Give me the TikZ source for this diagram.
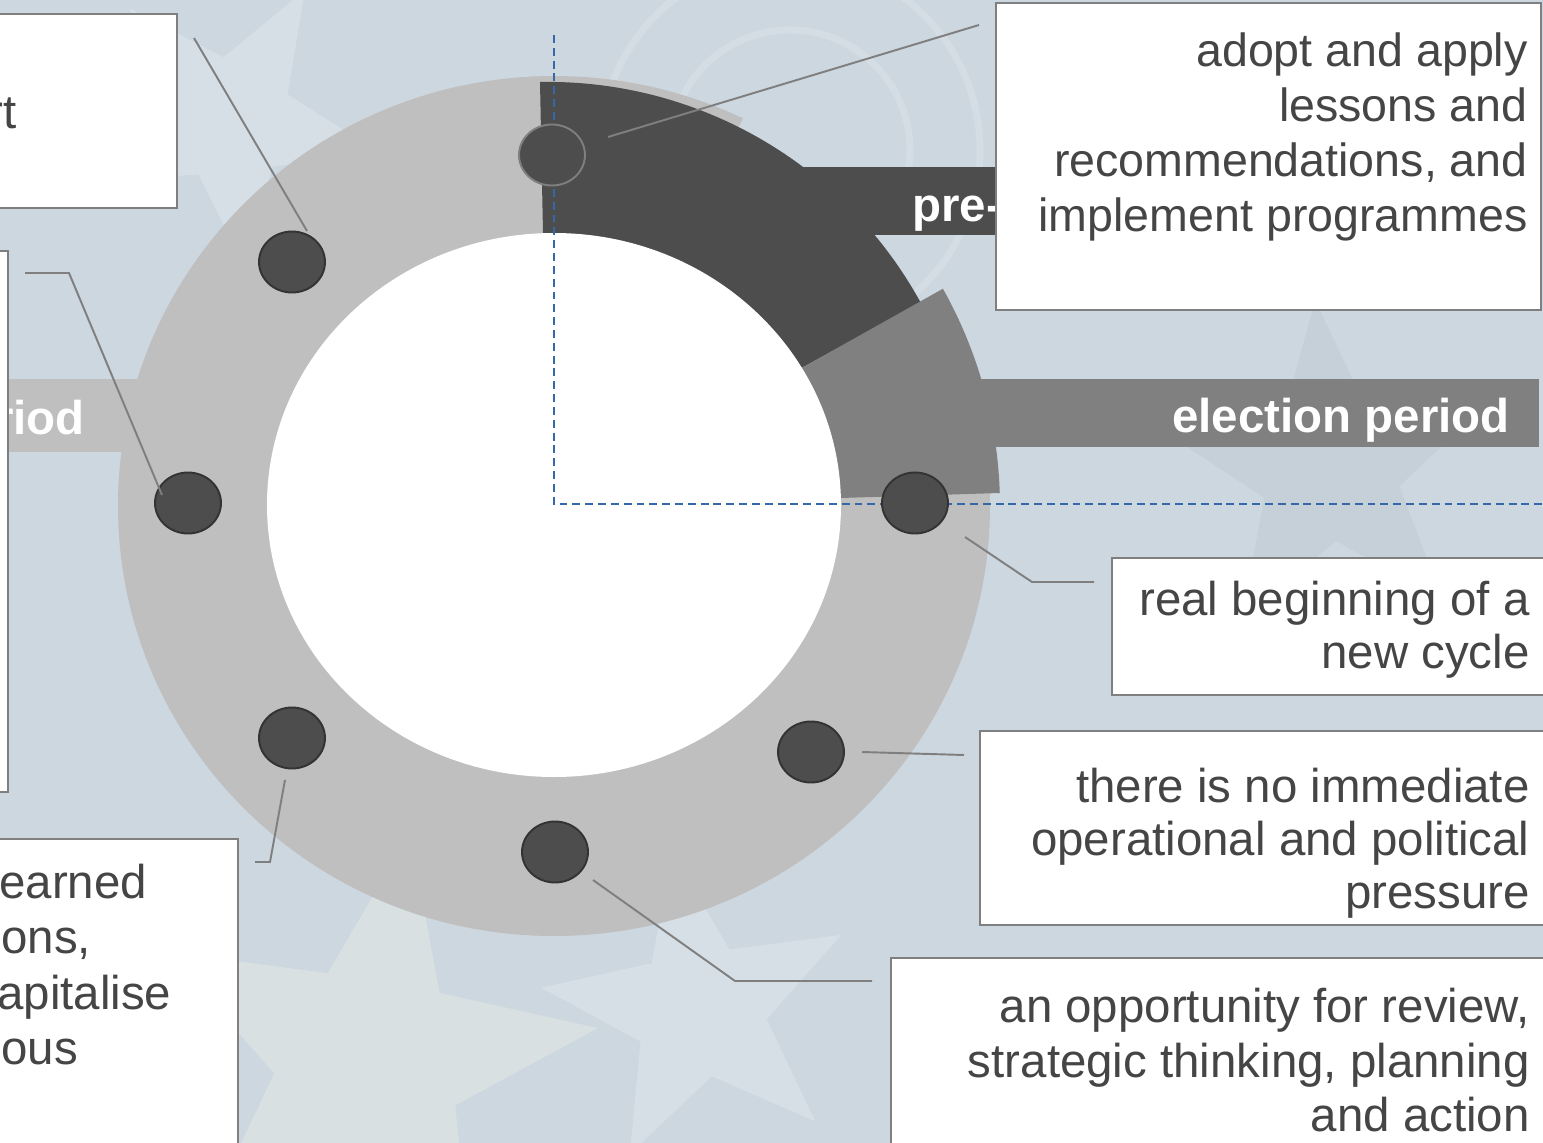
\documentclass[tikz,border=0pt]{standalone}
\usepackage{fontspec}
\setmainfont{Liberation Sans}
\usetikzlibrary{calc,shapes.geometric}

\definecolor{bgblue}{HTML}{CDD7E0}
\definecolor{paleleaf}{HTML}{E8EDE6}
\definecolor{ringgray}{HTML}{BFBFBF}
\definecolor{darkseg}{HTML}{4D4D4D}
\definecolor{midseg}{HTML}{808080}
\definecolor{dotline}{HTML}{333333}
\definecolor{leader}{HTML}{7F7F7F}
\definecolor{textgray}{HTML}{454545}
\definecolor{axisblue}{HTML}{3468A8}

% soft five-pointed star for the backdrop: x, y, radius, rotation, style
\newcommand\bgstar[5]{%
  \begin{scope}[shift={(#1,#2)}]
    \fill[#5] (#4:#3)
      \foreach \k/\f in {1/0.42,2/1,3/0.42,4/1,5/0.42,6/1,7/0.42,8/1,9/0.42}{
        -- ({#4+36*\k}:{\f*#3})} -- cycle;
  \end{scope}}

\tikzset{
  callout/.style={draw=leader, line width=1.1pt, fill=white},
  leaderline/.style={draw=leader, line width=1.1pt},
  marker/.style={ellipse, fill=darkseg, draw=dotline, line width=1.1pt,
    minimum width=1.32cm, minimum height=1.22cm, inner sep=0pt},
  bodytext/.style={font=\fontsize{27}{32}\selectfont, text=textgray, inner sep=0pt},
  bodytop/.style={font=\fontsize{26.5}{31}\selectfont, text=textgray, inner sep=0pt},
  bartext/.style={font=\fontsize{27}{32}\selectfont\bfseries, text=white, inner sep=0pt},
  axis/.style={draw=axisblue, line width=1.1pt, dash pattern=on 4.5pt off 2.8pt},
}

\begin{document}
\begin{tikzpicture}[x=0.02cm, y=-0.02cm]
\useasboundingbox (0,0) rectangle (1543,1143);
\clip (0,0) rectangle (1543,1143);

% backdrop
\fill[bgblue] (0,0) rectangle (1543,1143);
\bgstar{370}{1060}{230}{-80}{paleleaf, opacity=0.45}
\bgstar{700}{1010}{160}{-100}{white, opacity=0.22}
\bgstar{230}{120}{150}{-60}{white, opacity=0.20}
\bgstar{1330}{470}{170}{-95}{gray, opacity=0.08}
\draw[white, opacity=0.15, line width=4pt] (790,150) circle [radius=190];
\draw[white, opacity=0.15, line width=4pt] (790,150) circle [radius=120];

% post-election band, behind the ring
\fill[ringgray] (-10,379) rectangle (300,452);
\node[bartext, anchor=base east] (postlbl) at (85,434) {riod};

% the cycle ring, open where the pre-election segment sits
\begin{scope}
  \clip (554,506) -- (1429,21) -- (1500,1300) -- (-300,1300) -- (-300,-500)
    -- (992,-500) -- (992,-393) -- cycle;
  \fill[ringgray] (554,506) ellipse [x radius=436, y radius=430];
\end{scope}

% pre-election band and segment
\fill[darkseg] (760,167) rectangle (1100,235);
\node[bartext, anchor=base west] (prelbl) at (912,221) {pre-};
\fill[darkseg] (548,507) -- (543,233) -- (540,82)
  arc[start angle=-91.08, end angle=-28.73, radius=425] -- cycle;

% election band and segment
\fill[midseg] (960,379) rectangle (1539,447);
\node[bartext, anchor=base east] (eleclbl) at (1510,432) {election period};
\fill[midseg] (554,507) -- ++(-1.8:446)
  arc[start angle=-1.8, end angle=-29.3, radius=446] -- cycle;

% hole of the ring
\fill[white] (554,505) ellipse [x radius=287, y radius=272];

% dashed axes
\coordinate (axtop) at (554,35);
\coordinate (axorigin) at (554,504);
\coordinate (axright) at (1543,504);
\draw[axis] (axtop) -- (axorigin) -- (axright);

% milestones on the ring
\node[marker, draw=leader] (d1) at (552,155) {};
\node[marker] (d2) at (292,262) {};
\node[marker] (d3) at (188,503) {};
\node[marker] (d4) at (292,738) {};
\node[marker] (d5) at (555,852) {};
\node[marker] (d6) at (811,752) {};
\node[marker] (d7) at (915,503) {};

% leader lines
\coordinate (l1a) at (608,137);  \coordinate (l1b) at (979,25);
\coordinate (l2a) at (307,231);  \coordinate (l2b) at (194,38);
\coordinate (l3a) at (162,495);  \coordinate (l3k) at (69,273);  \coordinate (l3b) at (25,273);
\coordinate (l4a) at (285,780);  \coordinate (l4k) at (270,862); \coordinate (l4b) at (255,862);
\coordinate (l5a) at (593,880);  \coordinate (l5k) at (735,981); \coordinate (l5b) at (872,981);
\coordinate (l6a) at (862,752);  \coordinate (l6b) at (964,755);
\coordinate (l7a) at (965,537);  \coordinate (l7k) at (1032,582); \coordinate (l7b) at (1094,582);
\draw[leaderline] (l1a) -- (l1b);
\draw[leaderline] (l2a) -- (l2b);
\draw[leaderline] (l3a) -- (l3k) -- (l3b);
\draw[leaderline] (l4a) -- (l4k) -- (l4b);
\draw[leaderline] (l5a) -- (l5k) -- (l5b);
\draw[leaderline] (l6a) -- (l6b);
\draw[leaderline] (l7a) -- (l7k) -- (l7b);

% callout boxes
\path[callout] (-10,14) rectangle (177,208);
\path[callout] (-10,251) rectangle (8,792);
\path[callout] (-10,839) rectangle (238,1160);
\path[callout] (996,3) rectangle (1541,310);
\path[callout] (1112,558) rectangle (1560,695);
\path[callout] (980,731) rectangle (1560,925);
\path[callout] (891,958) rectangle (1560,1160);

% callout texts
\node[bodytext, anchor=base east] (tl0) at (17,128) {rt};

\node[bodytext, anchor=base west] (bl0) at (-1,898) {earned};
\node[bodytext, anchor=base west] (bl1) at (1,953) {ons,};
\node[bodytext, anchor=base west] (bl2) at (-3,1009) {apitalise};
\node[bodytext, anchor=base west] (bl3) at (1,1064) {ous};

\foreach \t [count=\i from 0] in {adopt and apply, lessons and, {recommendations, and}, implement programmes}
  \node[bodytop, anchor=base east] (tr\i) at (1528,{66+55*\i}) {\t};

\node[bodytext, anchor=base east] (rb0) at (1530,615) {real beginning of a};
\node[bodytext, anchor=base east] (rb1) at (1530,668) {new cycle};

\node[bodytext, anchor=base east] (pr0) at (1530,802) {there is no immediate};
\node[bodytext, anchor=base east] (pr1) at (1530,855) {operational and political};
\node[bodytext, anchor=base east] (pr2) at (1530,908) {pressure};

\node[bodytext, anchor=base east] (op0) at (1530,1022) {an opportunity for review,};
\node[bodytext, anchor=base east] (op1) at (1530,1077) {strategic thinking, planning};
\node[bodytext, anchor=base east] (op2) at (1530,1131) {and action};
\end{tikzpicture}
\end{document}
